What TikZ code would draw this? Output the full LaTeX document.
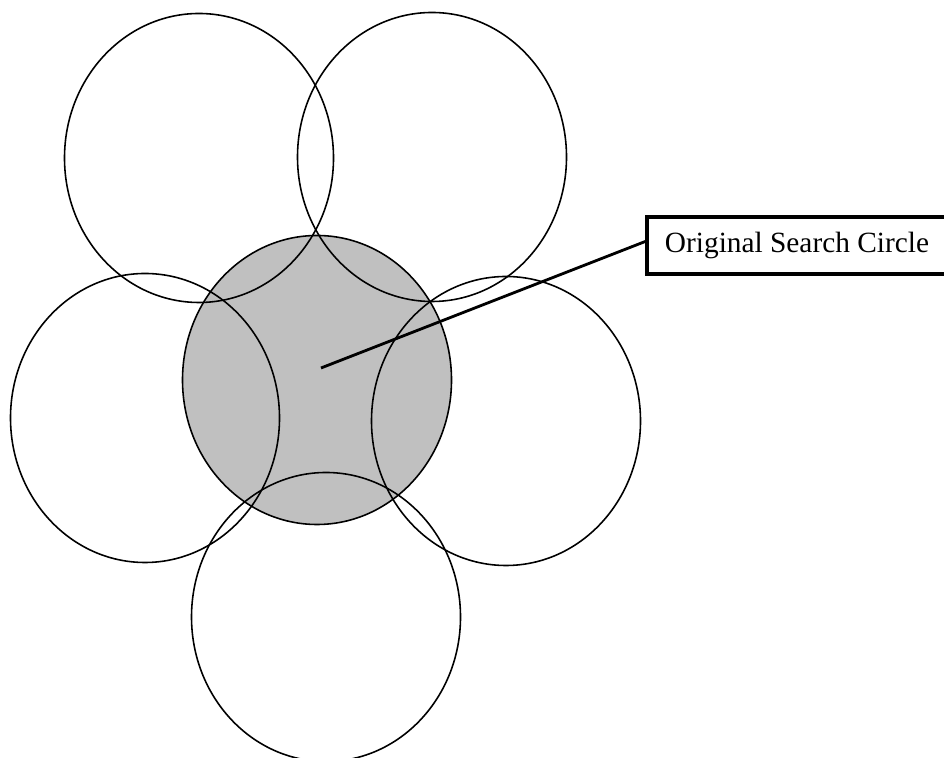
\documentclass[tikz,border=0pt]{standalone}
\usepackage{fontspec}
\setmainfont{Liberation Serif}
\usetikzlibrary{shapes.geometric}
\definecolor{searchgray}{RGB}{192,192,192}

\begin{document}
\begin{tikzpicture}
	
	\useasboundingbox (0,0) rectangle (18.88,15.16);
	
	\tikzset{zone/.style={shape=ellipse,draw=black,line width=0.9pt,inner sep=0pt,minimum width=5.38cm,minimum height=5.78cm}}
	
	\node[zone,fill=searchgray] (o) at (6.34, 7.56)     {};
	\node[zone] (tl) at (3.98, 12.0)     {};
	\node[zone] (tr) at (8.64, 12.02)     {};
	\node[zone] (l) at (2.90, 6.80)     {};
	\node[zone] (r) at (10.12, 6.74)     {};
	\node[zone] (b) at (6.52, 2.82)     {};
	
	\coordinate (tip) at (6.42, 7.80);
	\node[shape=rectangle,draw=black,line width=2pt,minimum width=6.0cm,minimum height=1.14cm,font=\fontsize{16.7}{20}\selectfont] (label) at (15.94, 10.25)     {Original Search Circle};
	
	\path[-, line width=1.6pt] (tip) edge ([yshift=0.08cm]label.west);
	
	\end{tikzpicture}
\end{document}
